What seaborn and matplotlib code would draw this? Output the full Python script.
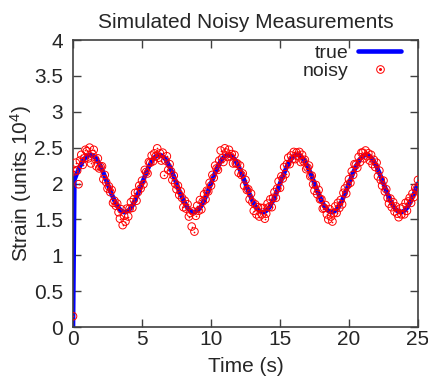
import matplotlib
matplotlib.use("Agg")
import matplotlib.pyplot as plt
from matplotlib.lines import Line2D
from matplotlib.legend_handler import HandlerTuple
import pandas as pd
import seaborn as sns

# ==========================
# Data
# ==========================

time_s = [
    0.0, 0.1, 0.2, 0.3, 0.4, 0.5, 0.6, 0.7, 0.8, 0.9, 1.0, 1.1, 1.2, 1.3, 1.4, 1.5, 1.6, 1.7, 1.8, 1.9,
    2.0, 2.1, 2.2, 2.3, 2.4, 2.5, 2.6, 2.7, 2.8, 2.9, 3.0, 3.1, 3.2, 3.3, 3.4, 3.5, 3.6, 3.7, 3.8, 3.9,
    4.0, 4.1, 4.2, 4.3, 4.4, 4.5, 4.6, 4.7, 4.8, 4.9, 5.0, 5.1, 5.2, 5.3, 5.4, 5.5, 5.6, 5.7, 5.8, 5.9,
    6.0, 6.1, 6.2, 6.3, 6.4, 6.5, 6.6, 6.7, 6.8, 6.9, 7.0, 7.1, 7.2, 7.3, 7.4, 7.5, 7.6, 7.7, 7.8, 7.9,
    8.0, 8.1, 8.2, 8.3, 8.4, 8.5, 8.6, 8.7, 8.8, 8.9, 9.0, 9.1, 9.2, 9.3, 9.4, 9.5, 9.6, 9.7, 9.8, 9.9,
    10.0, 10.1, 10.2, 10.3, 10.4, 10.5, 10.6, 10.7, 10.8, 10.9, 11.0, 11.1, 11.2, 11.3, 11.4, 11.5, 11.6, 11.7, 11.8, 11.9,
    12.0, 12.1, 12.2, 12.3, 12.4, 12.5, 12.6, 12.7, 12.8, 12.9, 13.0, 13.1, 13.2, 13.3, 13.4, 13.5, 13.6, 13.7, 13.8, 13.9,
    14.0, 14.1, 14.2, 14.3, 14.4, 14.5, 14.6, 14.7, 14.8, 14.9, 15.0, 15.1, 15.2, 15.3, 15.4, 15.5, 15.6, 15.7, 15.8, 15.9,
    16.0, 16.1, 16.2, 16.3, 16.4, 16.5, 16.6, 16.7, 16.8, 16.9, 17.0, 17.1, 17.2, 17.3, 17.4, 17.5, 17.6, 17.7, 17.8, 17.9,
    18.0, 18.1, 18.2, 18.3, 18.4, 18.5, 18.6, 18.7, 18.8, 18.9, 19.0, 19.1, 19.2, 19.3, 19.4, 19.5, 19.6, 19.7, 19.8, 19.9,
    20.0, 20.1, 20.2, 20.3, 20.4, 20.5, 20.6, 20.7, 20.8, 20.9, 21.0, 21.1, 21.2, 21.3, 21.4, 21.5, 21.6, 21.7, 21.8, 21.9,
    22.0, 22.1, 22.2, 22.3, 22.4, 22.5, 22.6, 22.7, 22.8, 22.9, 23.0, 23.1, 23.2, 23.3, 23.4, 23.5, 23.6, 23.7, 23.8, 23.9,
    24.0, 24.1, 24.2, 24.3, 24.4, 24.5, 24.6, 24.7, 24.8, 24.9, 25.0,
]

strain_true = [
    # 0 - 5 s
    0.00, 2.05, 2.10, 2.15, 2.19, 2.24, 2.27, 2.31, 2.34, 2.36, 2.38, 2.39, 2.40, 2.40, 2.39, 2.38, 2.36, 2.34, 2.31, 2.27,
    2.24, 2.19, 2.15, 2.10, 2.05, 2.00, 1.95, 1.90, 1.85, 1.81, 1.76, 1.73, 1.69, 1.66, 1.64, 1.62, 1.61, 1.60, 1.60, 1.61,
    1.62, 1.64, 1.66, 1.69, 1.73, 1.76, 1.81, 1.85, 1.90, 1.95,
    # 5 - 10 s
    2.00, 2.05, 2.10, 2.15, 2.19, 2.24, 2.27, 2.31, 2.34, 2.36, 2.38, 2.39, 2.40, 2.40, 2.39, 2.38, 2.36, 2.34, 2.31, 2.27,
    2.24, 2.19, 2.15, 2.10, 2.05, 2.00, 1.95, 1.90, 1.85, 1.81, 1.76, 1.73, 1.69, 1.66, 1.64, 1.62, 1.61, 1.60, 1.60, 1.61,
    1.62, 1.64, 1.66, 1.69, 1.73, 1.76, 1.81, 1.85, 1.90, 1.95,
    # 10 - 15 s
    2.00, 2.05, 2.10, 2.15, 2.19, 2.24, 2.27, 2.31, 2.34, 2.36, 2.38, 2.39, 2.40, 2.40, 2.39, 2.38, 2.36, 2.34, 2.31, 2.27,
    2.24, 2.19, 2.15, 2.10, 2.05, 2.00, 1.95, 1.90, 1.85, 1.81, 1.76, 1.73, 1.69, 1.66, 1.64, 1.62, 1.61, 1.60, 1.60, 1.61,
    1.62, 1.64, 1.66, 1.69, 1.73, 1.76, 1.81, 1.85, 1.90, 1.95,
    # 15 - 20 s
    2.00, 2.05, 2.10, 2.15, 2.19, 2.24, 2.27, 2.31, 2.34, 2.36, 2.38, 2.39, 2.40, 2.40, 2.39, 2.38, 2.36, 2.34, 2.31, 2.27,
    2.24, 2.19, 2.15, 2.10, 2.05, 2.00, 1.95, 1.90, 1.85, 1.81, 1.76, 1.73, 1.69, 1.66, 1.64, 1.62, 1.61, 1.60, 1.60, 1.61,
    1.62, 1.64, 1.66, 1.69, 1.73, 1.76, 1.81, 1.85, 1.90, 1.95,
    # 20 - 25 s
    2.00, 2.05, 2.10, 2.15, 2.19, 2.24, 2.27, 2.31, 2.34, 2.36, 2.38, 2.39, 2.40, 2.40, 2.39, 2.38, 2.36, 2.34, 2.31, 2.27,
    2.24, 2.19, 2.15, 2.10, 2.05, 2.00, 1.95, 1.90, 1.85, 1.81, 1.76, 1.73, 1.69, 1.66, 1.64, 1.62, 1.61, 1.60, 1.60, 1.61,
    1.62, 1.64, 1.66, 1.69, 1.73, 1.76, 1.81, 1.85, 1.90, 1.95,
    2.00,
]

strain_noisy = [
    # 0 - 5 s
    0.15, 2.17, 2.29, 2.18, 1.99, 2.32, 2.40, 2.26, 2.35, 2.47, 2.45, 2.35, 2.50, 2.28, 2.41, 2.47, 2.34, 2.24, 2.35, 2.21,
    2.23, 2.24, 2.06, 2.12, 2.02, 1.93, 1.96, 1.88, 1.91, 1.73, 1.76, 1.69, 1.72, 1.60, 1.51, 1.64, 1.42, 1.55, 1.47, 1.65,
    1.54, 1.65, 1.74, 1.66, 1.78, 1.87, 1.76, 1.88, 1.97, 1.93,
    # 5 - 10 s
    2.04, 1.99, 2.19, 2.16, 2.14, 2.30, 2.29, 2.39, 2.31, 2.42, 2.38, 2.49, 2.36, 2.42, 2.32, 2.43, 2.12, 2.32, 2.38, 2.19,
    2.27, 2.17, 2.05, 2.11, 2.00, 1.92, 1.97, 1.84, 1.89, 1.80, 1.67, 1.76, 1.65, 1.71, 1.54, 1.59, 1.40, 1.61, 1.33, 1.55,
    1.69, 1.62, 1.77, 1.64, 1.75, 1.85, 1.78, 1.90, 1.89, 2.01,
    # 10 - 15 s
    1.97, 2.12, 2.08, 2.25, 2.21, 2.19, 2.32, 2.46, 2.35, 2.30, 2.49, 2.43, 2.37, 2.47, 2.38, 2.41, 2.28, 2.40, 2.28, 2.28,
    2.15, 2.25, 2.12, 2.14, 1.97, 2.05, 1.91, 1.92, 1.78, 1.86, 1.74, 1.62, 1.71, 1.57, 1.67, 1.54, 1.66, 1.57, 1.66, 1.51,
    1.58, 1.72, 1.67, 1.78, 1.67, 1.80, 1.88, 1.80, 1.93, 2.03,
    # 15 - 20 s
    1.94, 2.10, 2.07, 2.23, 2.13, 2.27, 2.36, 2.27, 2.39, 2.34, 2.44, 2.34, 2.43, 2.39, 2.44, 2.30, 2.40, 2.31, 2.33, 2.20,
    2.22, 2.25, 2.10, 2.11, 1.99, 1.90, 1.98, 1.85, 1.91, 1.78, 1.78, 1.65, 1.66, 1.70, 1.57, 1.50, 1.64, 1.54, 1.47, 1.59,
    1.68, 1.59, 1.73, 1.66, 1.77, 1.71, 1.87, 1.93, 1.86, 1.98,
    # 20 - 25 s
    2.06, 2.01, 2.17, 2.12, 2.27, 2.26, 2.22, 2.37, 2.30, 2.43, 2.43, 2.35, 2.46, 2.38, 2.42, 2.32, 2.40, 2.27, 2.33, 2.23,
    2.29, 2.10, 2.18, 2.05, 1.97, 2.04, 1.89, 1.92, 1.80, 1.72, 1.79, 1.67, 1.74, 1.61, 1.68, 1.58, 1.53, 1.65, 1.57, 1.67,
    1.57, 1.73, 1.62, 1.75, 1.80, 1.73, 1.86, 1.81, 1.94, 1.92,
    2.05,
]

x_ticks = [0, 5, 10, 15, 20, 25]
y_ticks = [0, 0.5, 1, 1.5, 2, 2.5, 3, 3.5, 4]
y_tick_labels = ["0", "0.5", "1", "1.5", "2", "2.5", "3", "3.5", "4"]

df = pd.DataFrame({"time": time_s, "true": strain_true, "noisy": strain_noisy})

# ==========================
# Style
# ==========================
sns.set_style("ticks")
plt.rcParams["font.family"] = ["Liberation Sans", "DejaVu Sans"]
plt.rcParams["mathtext.fontset"] = "custom"
plt.rcParams["mathtext.rm"] = "Liberation Sans"
plt.rcParams["mathtext.it"] = "Liberation Sans"

fig = plt.figure(figsize=(4.28, 3.76), dpi=100)
ax = fig.add_axes([0.1706, 0.1303, 0.806, 0.7633])

sns.lineplot(data=df, x="time", y="true", color="blue", linewidth=3.3,
             estimator=None, ax=ax, zorder=2)
sns.scatterplot(data=df, x="time", y="noisy", marker="o", s=30,
                facecolor="none", edgecolor="red", linewidth=0.7, ax=ax, zorder=3)
sns.scatterplot(data=df, x="time", y="noisy", marker="o", s=1.5,
                color="red", linewidth=0, ax=ax, zorder=4)

ax.set_xlim(0, 25)
ax.set_ylim(0, 4)
ax.set_xticks(x_ticks)
ax.set_yticks(y_ticks)
ax.set_yticklabels(y_tick_labels)

for side in ["top", "right", "bottom", "left"]:
    ax.spines[side].set_visible(True)
    ax.spines[side].set_color("#404040")
    ax.spines[side].set_linewidth(1.2)

ax.tick_params(direction="in", top=True, right=True, length=6, width=1,
               color="#404040", labelsize=15, pad=2)
ax.tick_params(axis="y", pad=7)

ax.set_title("Simulated Noisy Measurements", fontsize=15, pad=9)
ax.set_xlabel("Time (s)", fontsize=15, labelpad=6)
ax.set_ylabel(r"Strain (units 10$^{4}$)", fontsize=15, labelpad=0)

# legend: gnuplot style, text left of sample
true_handle = Line2D([], [], color="blue", linewidth=3.3)
ring = Line2D([], [], color="red", marker="o", linestyle="none", markersize=5.5,
              markerfacecolor="none", markeredgewidth=0.7)
dot = Line2D([], [], color="red", marker="o", linestyle="none", markersize=1.2)
ax.legend([true_handle, (ring, dot)], ["true", "noisy"],
          handler_map={tuple: HandlerTuple(ndivide=1, pad=0)},
          loc="upper right", bbox_to_anchor=(0.951, 0.985), markerfirst=False,
          frameon=False, fontsize=14, handlelength=2.2, handletextpad=0.5,
          labelspacing=0.0, borderpad=0, borderaxespad=0)

fig.savefig("out.png", dpi=100)
